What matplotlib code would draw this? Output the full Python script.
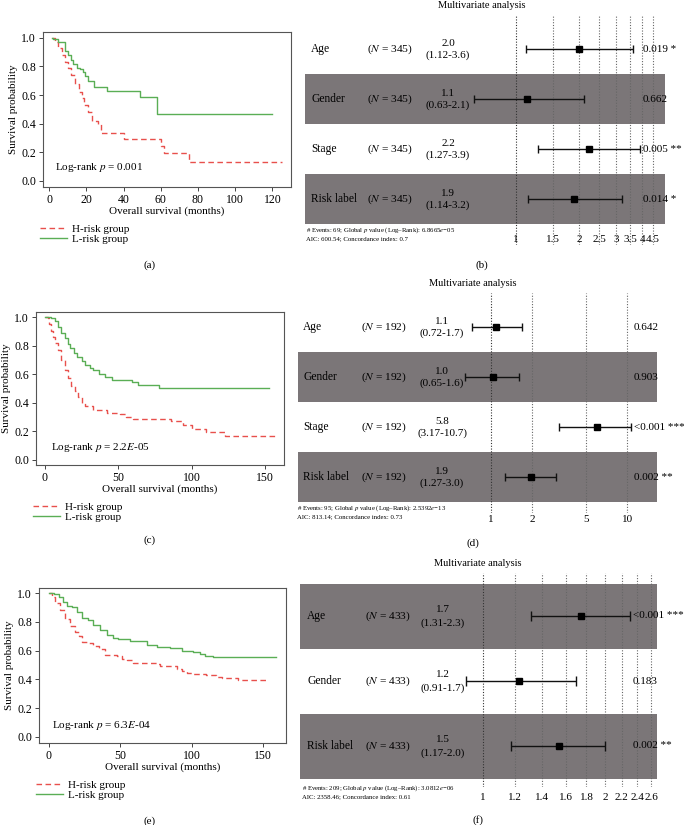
import numpy as np
import matplotlib
matplotlib.use("Agg")
import matplotlib.pyplot as plt
import matplotlib.transforms as mtransforms
from matplotlib.patches import Rectangle
from matplotlib.lines import Line2D

plt.rcParams['font.family'] = ['Liberation Serif', 'DejaVu Serif']
plt.rcParams['mathtext.fontset'] = 'stix'

W, H = 684, 825
RED = '#e8504c'
GREEN = '#5aae55'
BAND = '#7b7678'

# ---- Kaplan-Meier data ----
a_low_t = [1.5, 2, 5, 8.5, 10, 12, 13, 15, 16.5, 18, 19.5, 21, 24, 31, 49, 58, 120]
a_low_s = [1.0, 0.99, 0.97, 0.91, 0.88, 0.845, 0.82, 0.79, 0.78, 0.76, 0.73, 0.70, 0.655, 0.63, 0.585, 0.465, 0.465]
a_high_t = [1.5, 3, 5, 7, 8.5, 10, 12, 14, 16, 17.5, 19, 21, 23, 26, 28, 40, 60, 62, 75, 125]
a_high_s = [1.0, 0.97, 0.93, 0.88, 0.83, 0.79, 0.74, 0.68, 0.62, 0.58, 0.53, 0.48, 0.42, 0.40, 0.335, 0.29, 0.245, 0.195, 0.13, 0.13]

c_low_t = [0, 4.3, 6.6, 9, 11, 13.4, 15.7, 17, 19.5, 22, 25, 27, 30.5, 33, 37, 41, 46, 59.5, 63.4, 77.7, 153]
c_low_s = [1.0, 0.99, 0.97, 0.93, 0.89, 0.85, 0.81, 0.78, 0.75, 0.72, 0.69, 0.665, 0.64, 0.63, 0.60, 0.58, 0.56, 0.545, 0.525, 0.505, 0.505]
c_high_t = [0, 2, 3, 4.3, 5.5, 6.6, 8.9, 11, 13.4, 15.7, 18, 20.2, 22.5, 25, 27, 33, 42, 51, 55.5, 60, 86, 94, 100, 110, 123, 156.6]
c_high_s = [1.0, 0.99, 0.95, 0.90, 0.86, 0.82, 0.77, 0.70, 0.63, 0.57, 0.52, 0.48, 0.44, 0.40, 0.38, 0.35, 0.33, 0.32, 0.30, 0.29, 0.27, 0.245, 0.22, 0.195, 0.165, 0.165]

e_low_t = [0, 3.3, 6.8, 10, 12.6, 16, 19.6, 23, 27, 31, 36, 40.5, 45, 48.7, 57, 62.7, 68.5, 75.5, 85, 93, 101, 105.8, 109, 115, 159]
e_low_s = [1.0, 0.99, 0.97, 0.94, 0.91, 0.90, 0.87, 0.83, 0.81, 0.78, 0.74, 0.71, 0.69, 0.68, 0.67, 0.665, 0.64, 0.625, 0.62, 0.60, 0.59, 0.575, 0.565, 0.555, 0.555]
e_high_t = [0, 2, 4.4, 8, 11.4, 15, 18.4, 20.7, 23, 26.5, 31, 34.7, 39, 47.5, 51, 54.5, 59, 75.5, 77.8, 89.5, 93, 96.4, 101, 110, 117, 121, 132.5, 153.5]
e_high_s = [1.0, 0.97, 0.93, 0.88, 0.82, 0.77, 0.73, 0.70, 0.66, 0.65, 0.63, 0.61, 0.57, 0.56, 0.545, 0.535, 0.515, 0.505, 0.49, 0.475, 0.455, 0.445, 0.435, 0.43, 0.42, 0.41, 0.395, 0.395]

# ---- Forest plot data ----
b_vars = ['Age', 'Gender', 'Stage', 'Risk label']
b_n = 345
b_hr = [2.0, 1.13, 2.23, 1.89]
b_lo = [1.12, 0.63, 1.27, 1.14]
b_hi = [3.6, 2.1, 3.9, 3.2]
b_est = ['2.0', '1.1', '2.2', '1.9']
b_ci = ['(1.12-3.6)', '(0.63-2.1)', '(1.27-3.9)', '(1.14-3.2)']
b_p = ['0.019 *', '0.662', '0.005 **', '0.014 *']
b_ticks = [1, 1.5, 2, 2.5, 3, 3.5, 4, 4.5]
b_tlabels = ['1', '1.5', '2', '2.5', '3', '3.5', '4', '4.5']
b_note = ['# Events: 69; Global $p$ value (Log\u2013Rank): 6.8665$e$\u221205',
          'AIC: 600.54; Concordance index: 0.7']

d_vars = ['Age', 'Gender', 'Stage', 'Risk label']
d_n = 192
d_hr = [1.09, 1.03, 6.0, 1.97]
d_lo = [0.72, 0.65, 3.17, 1.27]
d_hi = [1.7, 1.6, 10.7, 3.0]
d_est = ['1.1', '1.0', '5.8', '1.9']
d_ci = ['(0.72-1.7)', '(0.65-1.6)', '(3.17-10.7)', '(1.27-3.0)']
d_p = ['0.642', '0.903', '<0.001 ***', '0.002 **']
d_ticks = [1, 2, 5, 10]
d_tlabels = ['1', '2', '5', '10']
d_note = ['# Events: 95; Global $p$ value (Log\u2013Rank): 2.5392$e$\u221213',
          'AIC: 813.14; Concordance index: 0.73']

f_vars = ['Age', 'Gender', 'Risk label']
f_n = 433
f_hr = [1.75, 1.23, 1.54]
f_lo = [1.31, 0.91, 1.17]
f_hi = [2.3, 1.7, 2.0]
f_est = ['1.7', '1.2', '1.5']
f_ci = ['(1.31-2.3)', '(0.91-1.7)', '(1.17-2.0)']
f_p = ['<0.001 ***', '0.183', '0.002 **']
f_ticks = [1, 1.2, 1.4, 1.6, 1.8, 2, 2.2, 2.4, 2.6]
f_tlabels = ['1', '1.2', '1.4', '1.6', '1.8', '2', '2.2', '2.4', '2.6']
f_note = ['# Events: 209; Global $p$ value (Log\u2013Rank): 3.0812$e$\u221206',
          'AIC: 2358.46; Concordance index: 0.61']

fig = plt.figure(figsize=(W / 100, H / 100), dpi=100)


def fx(p):
    return p / W


def fy(p):
    return 1 - p / H


def box(l, r, t, b):
    return [fx(l), fy(b), fx(r) - fx(l), fy(t) - fy(b)]


def km_panel(pos, lt, ls, ht, hs, xlim, ylim, xticks, ptext, tpos, leg_xy, label, label_y):
    ax = fig.add_axes(box(*pos))
    ax.step(ht, hs, where='post', color=RED, lw=1.0, ls=(0, (4, 2.5)), label='H-risk group')
    ax.step(lt, ls, where='post', color=GREEN, lw=1.0, label='L-risk group')
    ax.set_xlim(*xlim)
    ax.set_ylim(*ylim)
    ax.set_xticks(xticks)
    ax.set_yticks([0, 0.2, 0.4, 0.6, 0.8, 1.0])
    ax.set_yticklabels(['0.0', '0.2', '0.4', '0.6', '0.8', '1.0'])
    ax.tick_params(labelsize=8.5, length=3, width=0.7, pad=2, color='#444444')
    for s in ax.spines.values():
        s.set_linewidth(0.8)
        s.set_color('#555555')
    ax.set_xlabel('Overall survival (months)', fontsize=8, labelpad=0)
    ax.set_ylabel('Survival probability', fontsize=8, labelpad=2)
    ax.text(tpos[0], tpos[1], ptext, transform=ax.transAxes, fontsize=8)
    handles = [Line2D([], [], color=RED, lw=1.0, ls=(0, (4, 2.5))),
               Line2D([], [], color=GREEN, lw=1.0)]
    fig.legend(handles, ['H-risk group', 'L-risk group'], loc='upper left',
               bbox_to_anchor=(fx(leg_xy[0]), fy(leg_xy[1])), frameon=False,
               fontsize=8, handlelength=2.4, handletextpad=0.5,
               labelspacing=0.0, borderaxespad=0, borderpad=0)
    fig.text(fx(150), fy(label_y), label, ha='center', va='center', fontsize=8)


km_panel((43, 291, 32, 187), a_low_t, a_low_s, a_high_t, a_high_s,
         (-3.3, 130), (-0.042, 1.04), [0, 20, 40, 60, 80, 100, 120],
         'Log-rank $p$ = 0.001', (0.048, 0.11), (40, 224), '(a)', 265)
km_panel((36, 284, 312, 465), c_low_t, c_low_s, c_high_t, c_high_s,
         (-6.1, 162.9), (-0.035, 1.035), [0, 50, 100, 150],
         'Log-rank $p$ = 2.2$E$-05', (0.06, 0.1), (33, 502), '(c)', 540)
km_panel((39, 286, 588, 743), e_low_t, e_low_s, e_high_t, e_high_s,
         (-7.0, 166.1), (-0.042, 1.035), [0, 50, 100, 150],
         'Log-rank $p$ = 6.3$E$-04', (0.053, 0.1), (36, 780), '(e)', 821)


def forest(vars_, n, hr, lo, hi, est, ci, pv, ticks, tlabels, note,
           one_px, k, row0, sp, top, bot, band_l, band_r, bands,
           x_lab, x_n, x_est, x_p, title_xy, tick_y, note_xy, label, label_y):
    ax = fig.add_axes(box(295, 684, top, bot))
    ax.set_xscale('log')
    ax.set_xlim(np.exp((295 - one_px) / k), np.exp((684 - one_px) / k))
    ax.set_ylim((bot - row0) / sp, (top - row0) / sp)
    ax.axis('off')
    tr = mtransforms.blended_transform_factory(fig.transFigure, ax.transData)
    rows = np.arange(len(vars_))
    for i in bands:
        ax.add_patch(Rectangle((fx(band_l), i - 0.5), fx(band_r) - fx(band_l), 1.0,
                               transform=tr, color=BAND, lw=0, zorder=0))
    for t in ticks:
        ax.axvline(t, color='#333333' if t == 1 else '#666666', ls=(0, (1, 1.5)),
                   lw=0.8, zorder=1)
    ax.hlines(rows, lo, hi, color='#111111', lw=1.0, zorder=3)
    ax.vlines(lo, rows - 0.08, rows + 0.08, color='#111111', lw=1.0, zorder=3)
    ax.vlines(hi, rows - 0.08, rows + 0.08, color='#111111', lw=1.0, zorder=3)
    ax.plot(hr, rows, 's', color='black', ms=5, zorder=4)
    for i in rows:
        ax.text(fx(x_lab), i, vars_[i], transform=tr, fontsize=8.3, va='center', ha='left')
        ax.text(fx(x_n), i, '($N$ = %d)' % n, transform=tr, fontsize=8.2, va='center', ha='center')
        ax.text(fx(x_est), i - 0.03, est[i], transform=tr, fontsize=8, va='bottom', ha='center')
        ax.text(fx(x_est), i + 0.03, ci[i], transform=tr, fontsize=8, va='top', ha='center')
        ax.text(fx(x_p), i, pv[i], transform=tr, fontsize=8, va='center', ha='left')
    for t, s in zip(ticks, tlabels):
        fig.text(fx(one_px + k * np.log(t)), fy(tick_y), s, ha='center', va='center', fontsize=8)
    fig.text(fx(title_xy[0]), fy(title_xy[1]), 'Multivariate analysis',
             ha='center', va='center', fontsize=7.5)
    fig.text(fx(note_xy[0]), fy(note_xy[1]), note[0], ha='left', va='center', fontsize=4.9)
    fig.text(fx(note_xy[0]), fy(note_xy[1] + 9), note[1], ha='left', va='center', fontsize=4.9)
    fig.text(fx(title_xy[0]), fy(label_y), label, ha='center', va='center', fontsize=8)


forest(b_vars, b_n, b_hr, b_lo, b_hi, b_est, b_ci, b_p, b_ticks, b_tlabels, b_note,
       516, 91.0, 49, 50, 15, 245, 305, 665, [1, 3],
       311, 390, 448, 643, (482, 5), 240, (306, 230), '(b)', 265)
forest(d_vars, d_n, d_hr, d_lo, d_hi, d_est, d_ci, d_p, d_ticks, d_tlabels, d_note,
       491, 59.2, 327, 50, 293, 513, 298, 657, [1, 3],
       303, 384, 442, 634, (473, 284), 519, (297, 508), '(d)', 543)
forest(f_vars, f_n, f_hr, f_lo, f_hi, f_est, f_ci, f_p, f_ticks, f_tlabels, f_note,
       483, 176.0, 616, 65, 573, 787, 300, 657, [0, 2],
       307, 388, 443, 633, (478, 563), 798, (302, 788), '(f)', 820)

fig.savefig('out.png', dpi=100)
